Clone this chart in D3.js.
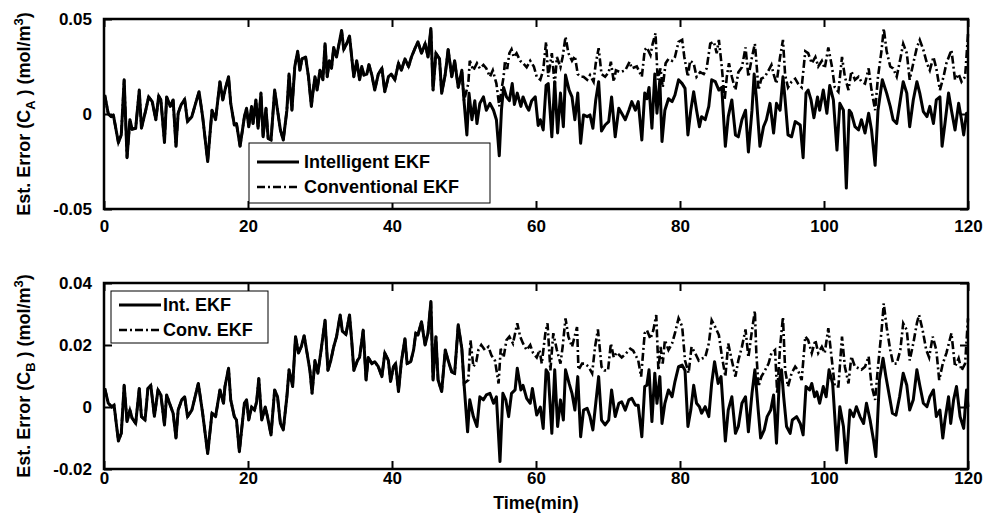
<!DOCTYPE html>
<html>
<head>
	<script src="https://d3js.org/d3.v7.min.js"></script>
	<style>
		body
		{
			margin:0;
			background:white;
		}
		text
		{
			font-family:"Liberation Sans", Arial, sans-serif;
			font-weight:bold;
		}
	</style>
</head>
<body>
	<svg id="chart" width="989" height="518"></svg>
<script>
	const timeTicks = [0, 20, 40, 60, 80, 100, 120];
	const caTicks = [-0.05, 0, 0.05];
	const cbTicks = [-0.02, 0, 0.02, 0.04];
	const legendCA = ["Intelligent EKF", "Conventional EKF"];
	const legendCB = ["Int. EKF", "Conv. EKF"];

	// [time (min), estimation error in 1e-3 mol/m3]
	const caIntelligent = [[0.1,10],[0.6,0],[1.0,-1.4],[1.3,-0.5],[2.0,-15],[2.4,-11],[2.8,18],[3.2,-23],[3.6,-3],[3.9,-8],[4.4,-7.5],[4.9,12.6],[5.2,-7.5],[5.8,2],[6.2,9],[6.7,6.5],[7.2,-3],[7.6,9.5],[7.9,7.4],[8.4,-15],[8.7,9],[9.2,4],[9.6,7.4],[10.0,-17],[10.3,0.4],[10.7,4.7],[11.2,7.7],[11.6,-4],[12.2,-1.4],[12.6,4],[13.2,11.7],[13.7,-1.4],[14.4,-25],[15.0,2],[15.5,-3],[16.1,17],[16.5,7.4],[16.8,12.6],[17.3,19.6],[17.6,5.6],[18.1,-5.8],[18.4,-5],[18.9,-17],[19.5,-1.4],[19.8,3],[20.1,-6.7],[20.5,3.9],[20.7,-5],[21.1,7.4],[21.4,-7.5],[21.8,11],[22.1,-12],[22.5,3],[22.8,-12.9],[23.2,-13.7],[23.7,12.6],[24.1,2],[24.5,-8.4],[24.9,-13.7],[25.4,2],[25.7,21],[26.1,2],[26.5,25],[26.9,33],[27.2,23],[27.5,29],[28.0,30],[28.4,19.6],[28.8,4],
		[29.0,10.9],[29.3,19.6],[29.6,12.6],[30.0,23],[30.4,18],[30.7,37],[31.0,19.6],[31.3,28],[31.6,24],[31.9,35],[32.3,30],[32.7,38],[33.0,44],[33.3,34],[33.7,37],[34.1,41],[34.4,30],[34.7,19.6],[35.1,28],[35.5,18],[35.8,25],[36.1,20.5],[36.5,21],[36.8,26],[37.2,20.5],[37.6,12.6],[38.1,21],[38.6,24],[39.0,11.7],[39.5,19.6],[39.9,21],[40.4,18],[40.9,26.7],[41.3,23],[41.8,29],[42.3,25],[42.7,30],[43.2,34.6],[43.6,38],[44.1,32],[44.6,37],[45.0,30],[45.4,45],[45.7,12.6],[46.1,32],[46.6,29],[46.9,10.9],[47.4,21],[47.8,34],[48.3,19.6],[48.7,28],[49.2,14],[49.7,23],[50.0,7],[50.4,-11],[50.7,10.9],[51.1,-3],[51.5,7],[51.8,-5],[52.2,5.6],[52.7,9],[53.1,2],[53.6,5.6],[54.1,2],[54.5,-3],[54.9,-22],[55.2,2],[55.5,14],[55.9,9],[56.3,7],[56.7,16],[57.0,5],[57.4,11],[57.9,4],[58.2,9],[58.7,4],
		[59.0,2],[59.4,7],[59.9,9],[60.3,-6],[60.6,-3],[61.0,-8.4],[61.4,15],[61.7,16],[62.2,-12],[62.6,17],[63.0,-10],[63.4,11],[63.8,-6.7],[64.1,20.5],[64.6,12.6],[65.0,9],[65.4,-3],[65.8,11],[66.2,-15.4],[66.6,-0.5],[67.1,-1.4],[67.5,-0.5],[67.9,-7.5],[68.3,7.4],[68.7,17],[69.1,-9],[69.6,-5.8],[70.1,-4],[70.5,9],[71.0,-12],[71.5,3],[71.9,0.4],[72.4,-3],[72.9,2],[73.3,6.5],[73.8,2],[74.2,6.5],[74.7,-13.7],[75.1,11],[75.4,8],[75.7,14],[76.1,-7.5],[76.5,21],[76.8,0.4],[77.2,18],[77.5,-14.5],[77.9,2],[78.4,8],[78.9,6.5],[79.3,10],[79.8,18],[80.3,16],[80.7,13.5],[81.1,-11],[81.5,2],[81.9,11.7],[82.3,2],[82.7,-6.7],[83.0,-1.4],[83.5,-3],[84.0,4],[84.4,18],[84.9,17],[85.4,12.6],[85.8,14],[86.3,-17],[86.7,-1.4],[87.2,7.4],[87.7,-11],[88.1,-12],[88.6,-3],[89.1,2],[89.5,-20],[90.0,2],
		[90.3,21],[90.6,9],[91.1,-17],[91.6,-6.7],[92.0,-3],[92.5,5.6],[93.0,-10],[93.4,5.6],[93.9,2],[94.3,19.6],[94.6,7.4],[95.0,-11],[95.5,-12],[96.0,-4],[96.4,-5],[96.7,-5.8],[97.1,-23],[97.5,11],[97.8,12.6],[98.2,7.4],[98.6,-2],[99.1,9],[99.4,2],[99.9,12.6],[100.4,0.4],[100.8,15],[101.3,7.4],[101.8,-19],[102.2,5.6],[102.7,2],[103.1,-39],[103.5,2],[103.8,0.4],[104.3,-6.7],[104.8,-8.4],[105.2,-3],[105.7,-10],[106.2,0.4],[106.6,-8.4],[107.1,-27],[107.5,2],[108.1,18],[108.7,11],[109.2,4],[109.6,-3],[110.1,-5],[110.6,7.4],[111.0,17],[111.5,11],[111.9,-6.7],[112.4,7.4],[112.9,17],[113.3,11],[113.8,1.2],[114.3,-1.4],[114.7,4],[115.2,-5],[115.6,7.4],[116.1,9],[116.4,-17],[116.8,-5],[117.3,11],[117.7,2],[118.2,-8.4],[118.7,5.6],[119.1,-3],[119.4,-11],[119.8,0.4],[120.0,0.4]];

	// conventional EKF only differs from t = 50 min on
	const caConventional = [[50.6,16],[50.8,28],[51.3,23],[51.8,26.7],[52.2,24],[52.7,25.8],[53.1,24],[53.6,19.6],[54.0,23],[54.5,16],[54.9,4],[55.2,12.6],[55.5,19.6],[55.7,28],[56.0,23.7],[56.3,32],[56.6,34],[56.9,30],[57.3,32],[57.8,28],[58.2,26.7],[58.7,24.6],[59.2,28],[59.7,25],[60.1,19.6],[60.6,18],[61.0,23],[61.4,38],[61.7,19.6],[62.2,32],[62.6,15],[62.9,30],[63.4,24.6],[63.7,30],[64.1,40.7],[64.5,32],[65.0,28],[65.4,30.5],[65.8,21],[66.2,19.6],[66.6,19.6],[67.1,18],[67.5,20.5],[68.0,17],[68.3,26.7],[68.7,34.6],[69.1,21],[69.6,19.6],[70.1,22],[70.4,27.5],[70.8,17],[71.1,23],[71.7,22],[72.4,23],[73.0,27.5],[73.3,24],[74.0,25],[74.7,19.6],[75.1,33.7],[75.4,35],[75.9,31],[76.2,37],[76.6,42.5],[76.9,18],[77.3,24],[77.6,14],[78.0,26.7],[78.4,29],[78.9,28],[79.3,30],[79.8,38],[80.3,39],[80.6,30],[81.1,19.6],[81.4,28],[81.9,26.7],[82.3,19.6],[82.8,22],[83.3,21],[83.7,24],[84.2,37],[84.7,38],[85.1,32],[85.4,39],[85.8,25],[86.2,7.4],[86.5,19.6],[86.8,26.7],[87.2,19.6],[87.7,12.6],[88.1,22],[88.6,24.6],[89.1,35],[89.5,19.6],[90.0,30],[90.4,37],
		[90.6,28],[90.9,12.6],[91.3,18.6],[91.8,19.6],[92.3,23],[92.7,25.8],[93.0,21],[93.4,16],[93.9,30],[94.3,39],[94.6,20.5],[95.0,14],[95.5,17],[96.0,18.6],[96.4,16],[96.9,14],[97.4,33],[97.8,32],[98.3,26.7],[98.8,30],[99.2,25],[99.7,28],[100.1,24],[100.6,35],[101.1,25],[101.5,14],[102.0,11.7],[102.5,30],[102.9,19.6],[103.4,12.6],[103.8,22.5],[104.3,18],[104.8,19.6],[105.2,17],[105.7,16],[106.2,24],[106.6,12.6],[107.1,2],[107.5,19.6],[108.0,33.7],[108.3,45],[108.7,33],[109.2,25],[109.6,24],[110.1,19.6],[110.6,29],[111.0,37],[111.5,32],[111.9,18],[112.4,26.7],[112.9,35],[113.3,39],[113.8,33.7],[114.3,26.7],[114.7,23],[115.2,30],[115.6,24],[116.1,12.6],[116.6,19.6],[117.0,26.7],[117.7,33.7],[118.2,18],[118.7,21],[119.1,17],[119.6,19.6],[120.0,42]];

	const cbIntelligent = [[0.1,6],[0.6,1.2],[1.1,0],[1.4,0.6],[2.0,-11],[2.4,-8.5],[2.8,7],[3.2,-4.7],[3.6,-1],[3.9,-3.6],[4.4,-5.3],[4.9,6],[5.2,-3.1],[5.7,-4.2],[6.1,6],[6.5,7],[7.0,-3],[7.5,5.5],[7.9,3.9],[8.4,-5.8],[8.7,3.9],[9.2,0.6],[9.6,-2],[10.0,-10],[10.3,-1],[10.8,2.3],[11.2,3.3],[11.6,-3.1],[12.2,-1],[12.6,2.8],[13.1,7.6],[13.7,-2],[14.4,-15],[15.0,-2],[15.5,-3.1],[16.1,5.5],[16.6,1.2],[16.8,6.6],[17.3,12.5],[17.6,2.3],[18.1,-3.1],[18.4,-4.2],[18.8,-14.4],[19.5,1.2],[19.8,2.3],[20.1,-4.2],[20.5,0],[20.9,-1],[21.2,1.7],[21.5,9.2],[21.9,-4.2],[22.4,0],[22.7,-3.1],[23.2,-9],[23.7,5.5],[24.1,3.3],[24.5,-5.3],[24.9,-7.4],[25.4,3.3],[25.7,12],[26.2,6.6],[26.6,22.7],[27.0,17.4],[27.4,19.5],[27.8,23],[28.2,17.4],[28.6,11.8],[28.9,4.4],[29.3,15],[29.7,10.9],[30.1,17.4],[30.7,28],
		[31.1,11.8],[31.5,15],[31.9,19.4],[32.3,22.7],[32.8,29.7],[33.1,24.5],[33.6,23.4],[34.1,29.7],[34.4,21.5],[34.7,11.8],[35.2,15],[35.5,16],[36.0,24.8],[36.4,8.7],[36.7,16],[37.2,14],[37.6,14.6],[38.1,13],[38.6,9.8],[39.0,17.4],[39.5,15],[39.8,8.2],[40.2,13],[40.5,14],[40.9,5],[41.3,14.6],[41.8,22],[42.1,14],[42.6,14.6],[43.0,18.4],[43.3,23.8],[43.6,23.2],[44.1,27.5],[44.6,20],[45.0,23.8],[45.4,34],[45.7,8.7],[46.1,22.7],[46.4,8.7],[46.9,5],[47.4,18.4],[47.8,15],[48.3,11.3],[48.7,10.8],[49.2,26.5],[49.7,18.8],[50.0,7.6],[50.5,-8],[50.8,2.3],[51.3,-3.1],[51.8,-6.3],[52.2,3.3],[52.7,2.3],[53.1,3.9],[53.6,4.4],[54.1,1.2],[54.5,3.3],[55.0,-17.6],[55.4,4.4],[55.8,2.3],[56.2,-3.1],[56.6,4.4],[57.1,5.5],[57.4,12.5],[57.9,5.5],[58.2,7],[58.7,2.8],[59.2,1.2],[59.5,6],[60.1,-2.6],
		[60.6,0],[61.0,-6.9],[61.4,12],[61.7,10.9],[62.2,-8.5],[62.6,12],[63.0,-6.3],[63.4,2.3],[63.8,-4.2],[64.1,12],[64.6,7.6],[65.0,4.4],[65.4,-1],[65.8,9.8],[66.2,-9.6],[66.6,-1],[67.1,-0.4],[67.5,-3.1],[67.9,-7.4],[68.3,1.2],[68.7,9.8],[69.1,-4.2],[69.6,-5.8],[70.1,-4.2],[70.5,5.5],[71.0,-3.1],[71.5,1.2],[71.9,1.7],[72.4,-1],[72.9,2.3],[73.3,2.8],[73.8,0.6],[74.2,0.6],[74.7,-9.6],[75.1,6.6],[75.4,7],[75.7,12],[76.1,-4.7],[76.5,10.9],[76.8,1.2],[77.2,9.8],[77.5,-5.3],[77.9,1.2],[78.4,5.5],[78.9,3.3],[79.3,8.2],[79.8,13],[80.3,13.5],[80.7,11.8],[81.1,-6.3],[81.5,-1],[81.9,7],[82.3,1.2],[82.7,0.1],[83.0,-2],[83.5,0.1],[84.0,-3.1],[84.4,7.6],[84.8,14.6],[85.3,7.6],[85.7,9.8],[86.3,-11],[86.7,-1],[87.2,3.3],[87.7,-8.5],[88.1,-6.3],[88.6,1.2],[89.1,3.3],[89.5,-8],[90.0,4.4],[90.4,12],
		[90.9,-2],[91.2,-10],[91.7,-7.4],[92.1,-3.1],[92.6,-1],[93.0,3.9],[93.4,-11.7],[93.8,8.7],[94.1,12],[94.4,3.3],[94.8,-6.3],[95.3,-8.5],[95.6,-4.2],[96.2,-3.1],[96.7,-5.3],[97.1,-9],[97.5,6.6],[98.0,5.5],[98.3,7.6],[98.7,3.3],[99.0,4.9],[99.4,1.2],[99.9,6.6],[100.3,3.3],[100.7,12],[101.2,7.6],[101.8,-13.9],[102.2,0.1],[102.7,-6.3],[103.1,-18],[103.6,-1],[104.1,-3.1],[104.5,0.1],[105.0,-3.1],[105.5,-5.3],[105.9,1.2],[106.4,-4.2],[106.9,-11],[107.2,-16],[107.7,8.7],[108.2,15.7],[108.6,9.8],[109.1,3.3],[109.5,-2],[110.0,-2.6],[110.5,3.3],[111.0,10.9],[111.5,7],[111.9,-1],[112.4,2.3],[112.9,12],[113.3,7],[113.8,1.2],[114.3,0.1],[114.7,3.3],[115.2,5.5],[115.6,-3.1],[116.1,-1],[116.5,-10],[116.8,-4.2],[117.3,3.3],[117.6,-5.3],[118.0,2.3],[118.4,6.6],[118.9,-3.1],[119.4,-6.9],[119.8,5.5],[120.0,0]];

	const cbConventional = [[50.6,8.7],[50.9,21.6],[51.3,13],[51.7,14.6],[52.0,18.4],[52.4,20],[52.9,18.4],[53.4,19.4],[53.8,16.7],[54.3,15],[54.8,7.6],[55.1,18.8],[55.5,16],[55.9,21.6],[56.3,22.7],[56.8,20.5],[57.1,23.8],[57.4,27],[57.8,22.7],[58.2,20.5],[58.7,18.4],[59.2,20],[59.6,17.4],[60.1,16],[60.5,18.4],[60.8,14],[61.3,23.8],[61.6,27],[62.0,11.8],[62.4,23.8],[62.9,18.4],[63.4,14],[63.7,19.4],[64.1,28.6],[64.5,22.7],[65.0,19.4],[65.7,25.8],[65.9,12],[66.4,14],[66.8,14],[67.3,13],[67.8,10.9],[68.2,19.4],[68.6,25],[69.1,13],[69.5,11.8],[70.0,11.8],[70.4,20.5],[70.8,16],[71.2,17.6],[71.9,16],[72.4,17],[73.1,18.8],[73.5,18.2],[74.2,15],[74.6,9.8],[75.1,23.8],[75.4,24.8],[75.9,22],[76.3,24.8],[76.7,29.7],[77.0,11.8],[77.3,19.4],[77.6,14],[77.9,21.6],[78.4,18.4],[78.9,20.5],[79.3,23.8],[79.8,28.6],[80.3,26],[80.7,15],[81.2,10.9],[81.6,19.4],[82.1,17.4],[82.6,15],[83.0,15.6],[83.5,16],[84.0,20.5],[84.4,28],[84.9,25.8],[85.4,23.2],[85.8,16.7],[86.3,9.8],[86.7,20.5],[87.2,15],[87.7,9.8],[88.1,15],[88.6,19.4],[89.1,25],[89.5,16],[90.0,24.8],[90.4,31],
		[90.6,17.4],[90.9,6.6],[91.3,9.8],[91.8,11.8],[92.3,14],[92.7,17.4],[93.2,18.4],[93.5,4.4],[93.9,19.4],[94.3,29],[94.6,12],[95.0,6.6],[95.5,10.9],[96.0,13],[96.4,11.8],[96.9,8.7],[97.4,22.7],[97.8,21.6],[98.3,17.4],[98.8,21.6],[99.2,17.4],[99.7,19.4],[100.1,17.4],[100.6,25.4],[101.1,15],[101.5,6.6],[102.0,6.6],[102.5,22.7],[102.9,13],[103.4,7.6],[103.8,16.3],[104.3,13],[104.8,12.5],[105.2,12],[105.7,13],[106.2,16.3],[106.6,7],[107.1,2.3],[107.5,13],[108.0,24.8],[108.3,33.4],[108.7,25.8],[109.2,18.4],[109.6,14],[110.1,14],[110.6,18.4],[111.0,27],[111.5,24.8],[111.9,15],[112.4,20.5],[112.9,27],[113.2,29.7],[113.7,24.8],[114.2,18.4],[114.6,16],[115.1,22.7],[115.6,18.4],[116.0,8.7],[116.5,14],[117.0,17.4],[117.7,23.8],[118.2,13],[118.7,15.7],[119.1,11.8],[119.6,14],[120.0,28.6]];

	const svg = d3.select("#chart");
	const left = 104, right = 968;
	const dashDot = "8,3,2,3";

	function fmt(d)
	{
		return d === 0 ? "0" : d.toFixed(2);
	}

	function drawPanel(p)
	{
		let x = d3.scaleLinear().domain([0, 120]).range([left, right]);
		let y = d3.scaleLinear().domain(p.domain).range([p.bottom, p.top]);
		let g = svg.append("g");

		let line = d3.line()
			.x(d => x(d[0]))
			.y(d => y(d[1] / 1000));

		// both filters give the same estimate before t = 50
		let conv = p.intel.filter(d => d[0] <= 50).concat(p.conv);

		g.append("path")
			.datum(conv)
			.attr("d", line)
			.attr("fill", "none")
			.attr("stroke", "black")
			.attr("stroke-width", 2.6)
			.attr("stroke-dasharray", dashDot);

		g.append("path")
			.datum(p.intel)
			.attr("d", line)
			.attr("fill", "none")
			.attr("stroke", "black")
			.attr("stroke-width", 3)
			.attr("stroke-linejoin", "round");

		// axes, ticks pointing inwards like matlab
		let ax = [
			[d3.axisBottom(x).tickValues(timeTicks).tickPadding(p.xPad), `translate(0,${p.bottom})`],
			[d3.axisTop(x).tickValues(timeTicks).tickFormat(""), `translate(0,${p.top})`],
			[d3.axisLeft(y).tickValues(p.ticks).tickFormat(fmt).tickPadding(12), `translate(${left},0)`],
			[d3.axisRight(y).tickValues(p.ticks).tickFormat(""), `translate(${right},0)`]
		];
		ax.forEach(a => {
			let ag = g.append("g")
				.attr("transform", a[1])
				.call(a[0].tickSizeInner(-8).tickSizeOuter(0));
			ag.select(".domain").remove();
			ag.selectAll("line").attr("stroke-width", 2);
			ag.selectAll("text")
				.attr("font-size", 17)
				.attr("font-family", "Liberation Sans, Arial, sans-serif")
				.attr("font-weight", "bold")
				.attr("fill", "black");
		});

		g.append("rect")
			.attr("x", left)
			.attr("y", p.top)
			.attr("width", right - left)
			.attr("height", p.bottom - p.top)
			.attr("fill", "none")
			.attr("stroke", "black")
			.attr("stroke-width", 2.5);

		// y label with sub / superscript
		let yl = g.append("text")
			.attr("transform", `translate(30,${(p.top + p.bottom) / 2}) rotate(-90)`)
			.attr("text-anchor", "middle")
			.attr("font-size", 18);
		yl.append("tspan").text("Est. Error (C");
		yl.append("tspan").attr("dy", 5).attr("font-size", 13).text(p.sub);
		yl.append("tspan").attr("dy", -5).text(" ) (mol/m");
		yl.append("tspan").attr("dy", -7).attr("font-size", 13).text("3");
		yl.append("tspan").attr("dy", 7).text(")");

		// legend
		let L = p.legend;
		g.append("rect")
			.attr("x", L.x)
			.attr("y", L.y)
			.attr("width", L.w)
			.attr("height", L.h)
			.attr("fill", "white")
			.attr("stroke", "black")
			.attr("stroke-width", 1);
		p.labels.forEach((lab, i) => {
			let cy = L.y + L.row0 + i * L.gap;
			g.append("line")
				.attr("x1", L.x + 8)
				.attr("x2", L.x + 8 + L.len)
				.attr("y1", cy)
				.attr("y2", cy)
				.attr("stroke", "black")
				.attr("stroke-width", i == 0 ? 3 : 2.6)
				.attr("stroke-dasharray", i == 0 ? null : dashDot);
			g.append("text")
				.attr("x", L.x + L.textX)
				.attr("y", cy + 6)
				.attr("font-size", 18)
				.text(lab);
		});
	}

	drawPanel({
		top: 19, bottom: 209, domain: [-0.05, 0.05], ticks: caTicks, xPad: 11, sub: "A",
		intel: caIntelligent, conv: caConventional, labels: legendCA,
		legend: {x: 249, y: 143, w: 241, h: 60, row0: 19, gap: 25, len: 42, textX: 55}
	});
	drawPanel({
		top: 283, bottom: 469, domain: [-0.02, 0.04], ticks: cbTicks, xPad: 3, sub: "B",
		intel: cbIntelligent, conv: cbConventional, labels: legendCB,
		legend: {x: 111, y: 291, w: 157, h: 52, row0: 14, gap: 25, len: 42, textX: 52}
	});

	svg.append("text")
		.attr("x", (left + right) / 2)
		.attr("y", 509)
		.attr("text-anchor", "middle")
		.attr("font-size", 18)
		.text("Time(min)");
</script>
</body>
</html>
